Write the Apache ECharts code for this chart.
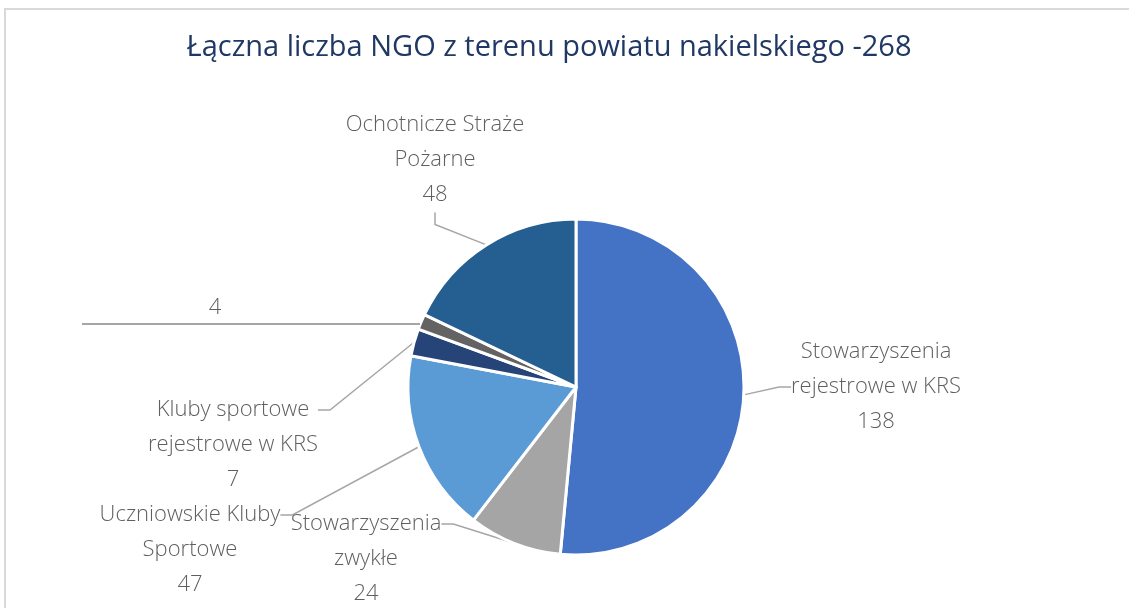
<!DOCTYPE html>
<html>
<head>
<meta charset="utf-8">
<script src="https://cdn.jsdelivr.net/npm/echarts@6/dist/echarts.min.js"></script>
<style>
    html, body { margin: 0; padding: 0; background: #fff; }
    #frame { position: absolute; left: 4px; top: 8px; width: 1140px; height: 620px; border-left: 2px solid #D9D9D9; border-top: 2px solid #D9D9D9; }
    #chart { position: absolute; left: 0; top: 0; width: 1129px; height: 608px; }
</style>
</head>
<body>
<div id="frame"></div>
<div id="chart"></div>
<script>
    // dane z wykresu
    var categories = ['Stowarzyszenia\nrejestrowe w KRS', 'Stowarzyszenia\nzwykłe', 'Uczniowskie Kluby\nSportowe', 'Kluby sportowe\nrejestrowe w KRS', '', 'Ochotnicze Straże\nPożarne'];
    var values = [138, 24, 47, 7, 4, 48];
    var colors = ['#4472C4', '#A5A5A5', '#5B9BD5', '#264478', '#636363', '#255E91'];

    // polozenie etykiet; pad przesuwa punkt zaczepienia linii na pierwsza linie tekstu
    var labelPos = [[876, 387], [366, 524], [190, 515], [233, 410], [251, 309], [435, 160]];
    var labelPad = [[0, 0, 0, 0], [70, 0, 0, 0], [70, 0, 0, 0], [70, 0, 0, 0], [0, 0, 0, 0], [0, 0, 0, 0]];

    var myChart = echarts.init(document.getElementById('chart'));

    var seriesData = [];
    for (var i = 0; i < values.length; i++) {
        var item = {
            name: categories[i],
            value: values[i],
            itemStyle: { color: colors[i] },
            label: { padding: labelPad[i] }
        };
        if (i === 4) {
            item.label.formatter = '{v|{c}}\n{ln|}';
            item.labelLine = { show: false };
        }
        seriesData.push(item);
    }

    var option = {
        title: {
            text: 'Łączna liczba NGO z terenu powiatu nakielskiego -268',
            left: 544,
            textAlign: 'center',
            top: 28,
            textStyle: { fontFamily: 'Open Sans', fontWeight: 'normal', fontSize: 29, color: '#203864' }
        },
        series: [{
            type: 'pie',
            center: [576, 387],
            radius: 168,
            startAngle: 90,
            clockwise: true,
            avoidLabelOverlap: false,
            itemStyle: { borderColor: '#fff', borderWidth: 3 },
            label: {
                show: true,
                formatter: function (p) { return p.name ? p.name + '\n' + p.value : '' + p.value; },
                fontFamily: 'Open Sans',
                fontWeight: 300,
                fontSize: 22,
                lineHeight: 35,
                color: '#5f5f5f',
                align: 'center',
                rich: {
                    v: { fontFamily: 'Open Sans', fontWeight: 300, fontSize: 22, color: '#5f5f5f', lineHeight: 30, padding: [0, 72, 0, 0] },
                    ln: { width: 338, height: 2, backgroundColor: '#A6A6A6', lineHeight: 2 }
                }
            },
            labelLine: {
                show: true,
                length: 12,
                length2: 12,
                lineStyle: { color: '#A6A6A6', width: 1.5 }
            },
            labelLayout: function (params) {
                var p = labelPos[params.dataIndex];
                return { x: p[0], y: p[1], align: 'center', verticalAlign: 'middle' };
            },
            data: seriesData
        }]
    };

    myChart.setOption(option);
</script>
</body>
</html>
